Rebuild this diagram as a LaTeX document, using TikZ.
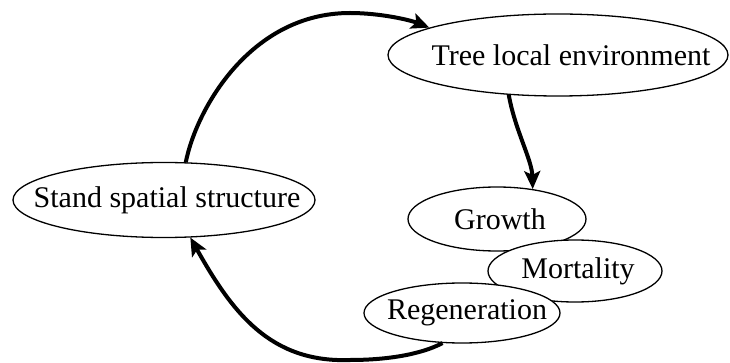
\documentclass[tikz,border=0pt]{standalone}
\usepackage{fontspec}
\setmainfont{Liberation Serif}
\newfontfamily\diagfont{Liberation Serif}
\usetikzlibrary{shapes.geometric,arrows.meta}

\tikzset{
  oval/.style={draw=black, line width=1.3pt, fill=white, ellipse, inner sep=0pt},
  txt/.style={font=\diagfont\fontsize{30}{36}\selectfont, inner sep=0pt},
  flow/.style={line width=4pt, -{Stealth[length=18pt,width=16pt,inset=4pt]}}
}

\begin{document}
\begin{tikzpicture}[x=1pt,y=-1pt]
  \useasboundingbox (0,0) rectangle (730,363);

  % process ellipses (later ones sit on top of earlier ones)
  \node[oval, minimum width=340pt, minimum height=82pt,
        label={[txt, xshift=13pt]center:Tree local environment}] (tle) at (558,55) {};
  \node[oval, minimum width=302pt, minimum height=75pt,
        label={[txt, xshift=3pt]center:Stand spatial structure}] (ss) at (164,200) {};
  \node[oval, minimum width=178pt, minimum height=64pt,
        label={[txt, xshift=3pt]center:Growth}] (gr) at (497,219) {};
  \node[oval, minimum width=174pt, minimum height=62pt,
        label={[txt, xshift=3pt]center:Mortality}] (mo) at (575,271) {};
  \node[oval, minimum width=196pt, minimum height=60pt,
        label={[txt, xshift=5pt]center:Regeneration}] (rg) at (462,313) {};

  % feedback loop
  \coordinate (top) at (350,13);
  \draw[flow] (ss.60) .. controls (196,110) and (250,13) .. (top)
              .. controls (380,13) and (410,20) .. (tle.168);
  \draw[flow] (tle.219) .. controls (515,130) and (532,160) .. (gr.40);
  \coordinate (low) at (350,360);
  \draw[flow] (rg.237) .. controls (420,355) and (385,360) .. (low)
              .. controls (270,363) and (232,312) .. (ss.305);
\end{tikzpicture}
\end{document}
